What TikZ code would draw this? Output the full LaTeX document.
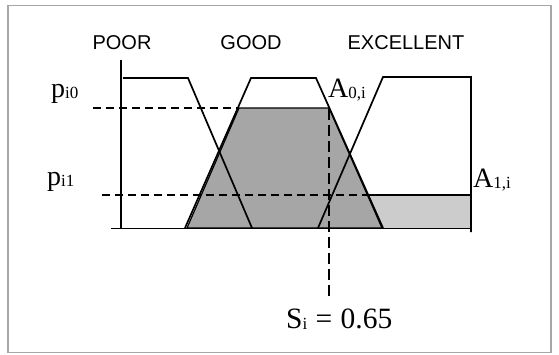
\documentclass[tikz,border=0pt]{standalone}
\usepackage{fontspec}
\setmainfont{Liberation Serif}
\newfontfamily\arialf{Liberation Sans}
\newcommand{\subtxt}[1]{{\fontsize{17}{17}\selectfont\raisebox{-1.5pt}{#1}}}
\begin{document}
\begin{tikzpicture}[x=1pt,y=-1pt,
  fn/.style={line width=1.7pt,line join=miter},
  lbl/.style={font=\arialf\fontsize{20}{20}\selectfont,anchor=base,inner sep=0pt},
  mlbl/.style={font=\fontsize{28}{28}\selectfont,anchor=base west,inner sep=0pt},
  dsh/.style={line width=1.3pt,dash pattern=on 8pt off 5pt},
  dshv/.style={line width=1.3pt,dash pattern=on 11pt off 5pt}]
\useasboundingbox (0,0) rectangle (559,354);
\draw[line width=1.5pt,black!35] (8,5.5) rectangle (551,352.5);
% light gray area
\fill[black!20] (318,228) -- (332,195) -- (471,195) -- (471,228) -- cycle;
\draw[line width=1.2pt] (368,195) -- (471,195);
% dark gray area
\draw[fill=black!35,line width=1.2pt] (187,228) -- (239,108) -- (329,108) -- (382,228) -- cycle;
% dashed lines
\draw[dsh] (93,108) -- (239,108);
\draw[dsh] (102,195) -- (368,195);
\draw[dshv] (329,109) -- (329,296);
% axes
\draw[line width=1.8pt] (121,60) -- (121,228);
\draw[line width=1pt] (111,228) -- (472,228);
% membership functions
\draw[fn] (123,78) -- (188,78) -- (252,228);
\draw[fn] (185,228) -- (251,78) -- (316,78) -- (383,228);
\draw[fn] (318,228) -- (383,77) -- (471,77) -- (471,232);
% labels
\node[lbl] (poor) at (122,49) {POOR};
\node[lbl] (good) at (251,49) {GOOD};
\node[lbl] (exc) at (406,49) {EXCELLENT};
\node[mlbl] (p0) at (51,97) {p\subtxt{i0}};
\node[mlbl] (p1) at (47,185) {p\subtxt{i1}};
\node[mlbl] (a0) at (328,97) {A\subtxt{0,i}};
\node[mlbl] (a1) at (473,187) {A\subtxt{1,i}};
\node[mlbl,font=\fontsize{29.5}{29.5}\selectfont] (si) at (286,328) {S\subtxt{i}\hspace{1pt} =\hspace{1pt} 0.65};
\end{tikzpicture}
\end{document}
